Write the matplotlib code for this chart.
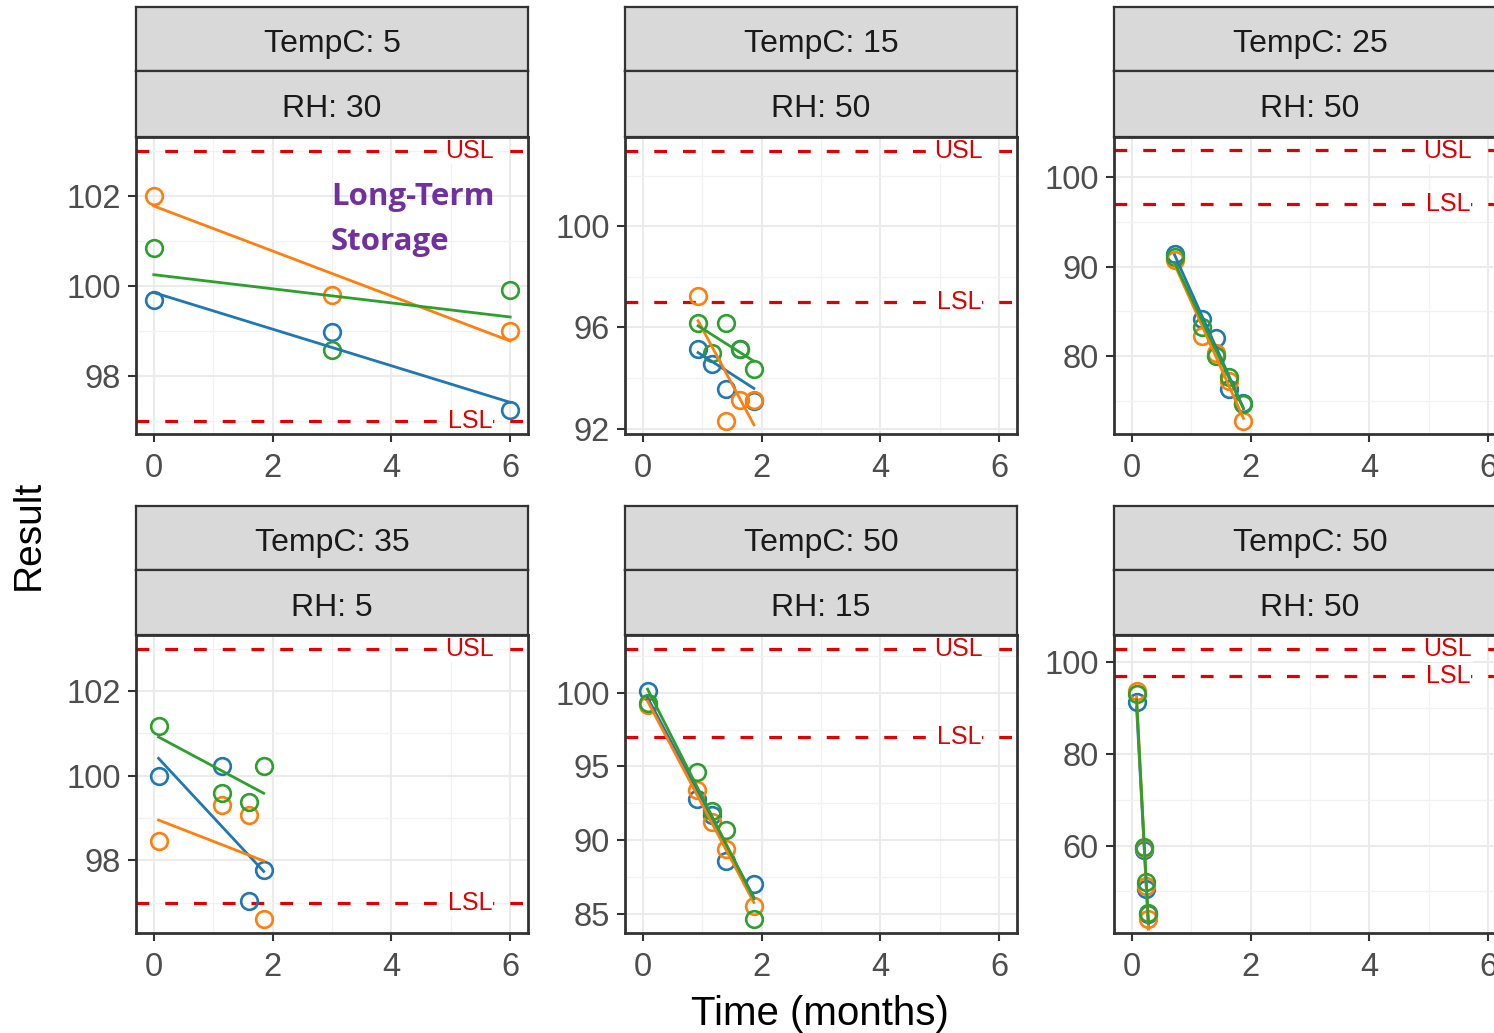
import matplotlib
matplotlib.use("Agg")
import matplotlib.pyplot as plt
import numpy as np

plt.rcParams['font.family'] = ['Liberation Sans', 'DejaVu Sans']

# facet labels
temps = [5, 15, 25, 35, 50, 50]
rhs = [30, 50, 50, 5, 15, 50]
usl, lsl = 103, 97

# time points (months) and results per batch, one set per facet
t_5_30 = [0, 3, 6]
blue_5_30 = [99.67, 98.97, 97.23]
orange_5_30 = [102.0, 99.8, 99.0]
green_5_30 = [100.84, 98.57, 99.9]

t_15_50 = [0.93, 1.16, 1.4, 1.63, 1.87]
blue_15_50 = [95.16, 94.54, 93.57, 95.14, 93.1]
orange_15_50 = [97.23, np.nan, 92.32, 93.14, 93.14]
green_15_50 = [96.17, 95.0, 96.17, 95.16, 94.34]

t_25_50 = [0.72, 1.18, 1.42, 1.64, 1.88]
blue_25_50 = [91.4, 84.2, 82.0, 76.3, 74.8]
orange_25_50 = [90.7, 82.2, 80.3, 77.2, 72.8]
green_25_50 = [91.1, 83.3, 80.0, 77.7, 74.6]

t_35_5 = [0.08, 1.15, 1.61, 1.85]
blue_35_5 = [99.98, 100.23, 97.04, 97.78]
orange_35_5 = [98.45, 99.3, 99.06, 96.6]
green_35_5 = [101.17, 99.58, 99.38, 100.23]

t_50_15 = [0.08, 0.92, 1.16, 1.4, 1.87]
blue_50_15 = [100.13, 92.8, 91.7, 88.6, 87.0]
orange_50_15 = [99.19, 93.4, 91.2, 89.4, 85.5]
green_50_15 = [99.3, 94.6, 92.0, 90.7, 84.6]

t_50_50 = [0.08, 0.2, 0.24, 0.28]
blue_50_50 = [91.4, 59.0, 50.5, 45.0]
orange_50_50 = [93.65, 59.5, 51.2, 43.9]
green_50_50 = [93.1, 59.7, 52.0, 45.4]

times = [t_5_30, t_15_50, t_25_50, t_35_5, t_50_15, t_50_50]
blues = [blue_5_30, blue_15_50, blue_25_50, blue_35_5, blue_50_15, blue_50_50]
oranges = [orange_5_30, orange_15_50, orange_25_50, orange_35_5, orange_50_15, orange_50_50]
greens = [green_5_30, green_15_50, green_25_50, green_35_5, green_50_15, green_50_50]

y_ticks = [[98, 100, 102], [92, 96, 100], [80, 90, 100],
           [98, 100, 102], [85, 90, 95, 100], [60, 80, 100]]
x_ticks = [0, 2, 4, 6]

colors = ['#1F77B4', '#FF7F0E', '#2CA02C']
red = '#E00000'
dark = '#333333'

W, H = 1494, 1033
fig = plt.figure(figsize=(W / 100, H / 100), dpi=100)


def box(l, t, r, b):
    return [l / W, 1 - b / H, (r - l) / W, (b - t) / H]


col_left = [136, 625, 1114]
pw = 392
panel_tb = [(137, 434), (635, 933)]
strip_tb = [(7, 71), (506, 570)]

for i in range(6):
    r, c = i // 3, i % 3
    l = col_left[c]
    pt, pb = panel_tb[r]
    st, sm = strip_tb[r]

    ax = fig.add_axes(box(l, pt, l + pw, pb))
    t = np.array(times[i], dtype=float)
    allv = []
    for vals, col in zip([blues[i], oranges[i], greens[i]], colors):
        v = np.array(vals, dtype=float)
        ok = ~np.isnan(v)
        ax.plot(t[ok], v[ok], 'o', mfc='none', mec=col, ms=12, mew=1.9, zorder=3)
        k, b0 = np.polyfit(t[ok], v[ok], 1)
        xx = np.array([t[ok].min(), t[ok].max()])
        ax.plot(xx, k * xx + b0, color=col, lw=2, zorder=4)
        allv.extend(v[ok])

    for lim, name in [(usl, 'USL'), (lsl, 'LSL')]:
        ax.axhline(lim, color=red, lw=2.3, ls=(0, (4, 5)), zorder=2)
        ax.text(5.32, lim, name, color=red, fontsize=18, ha='center', va='center',
                bbox=dict(facecolor='white', edgecolor='none', pad=0.8), zorder=2.4)

    yt = y_ticks[i]
    step = yt[1] - yt[0]
    ax.set_yticks(yt)
    ax.set_yticks(np.arange(yt[0] - step / 2, yt[-1] + step, step), minor=True)
    ax.set_xticks(x_ticks)
    ax.set_xticks([1, 3, 5], minor=True)

    lo = min(min(allv), lsl)
    hi = max(max(allv), usl)
    span = hi - lo
    ax.set_ylim(lo - 0.05 * span, hi + 0.05 * span)
    ax.set_xlim(-0.3, 6.3)

    ax.grid(which='major', color='#EBEBEB', lw=1.5, zorder=0)
    ax.grid(which='minor', color='#F2F2F2', lw=0.9, zorder=0)
    ax.set_axisbelow(True)
    ax.tick_params(which='major', length=6, width=1.5, color=dark,
                   labelcolor='#4D4D4D', labelsize=23.5, pad=5)
    ax.tick_params(axis='x', which='major', pad=8)
    ax.tick_params(which='minor', length=0)
    for sp in ax.spines.values():
        sp.set_color(dark)
        sp.set_linewidth(2)

    for (a, bb), label in [((st, sm), 'TempC: %d' % temps[i]), ((sm, pt), 'RH: %d' % rhs[i])]:
        sax = fig.add_axes(box(l, a, l + pw, bb))
        sax.set_facecolor('#D9D9D9')
        sax.set_xticks([])
        sax.set_yticks([])
        for sp in sax.spines.values():
            sp.set_color(dark)
            sp.set_linewidth(1.6)
        sax.text(0.5, 0.42, label, transform=sax.transAxes, ha='center', va='center',
                 fontsize=23, color='#1A1A1A')

    if i == 0:
        ax.text(2.98, 101.78, 'Long-Term', color='#7030A0', fontsize=22.5,
                fontweight='bold', family='Open Sans', va='baseline', zorder=6)
        ax.text(2.98, 100.79, 'Storage', color='#7030A0', fontsize=22.5,
                fontweight='bold', family='Open Sans', va='baseline', zorder=6)

fig.text(29 / W, 1 - 535 / H, 'Result', rotation=90, ha='center', va='center', fontsize=28)
fig.text(820 / W, 1 - 1014 / H, 'Time (months)', ha='center', va='center', fontsize=29)

fig.savefig('out.png', dpi=100, facecolor='white')
